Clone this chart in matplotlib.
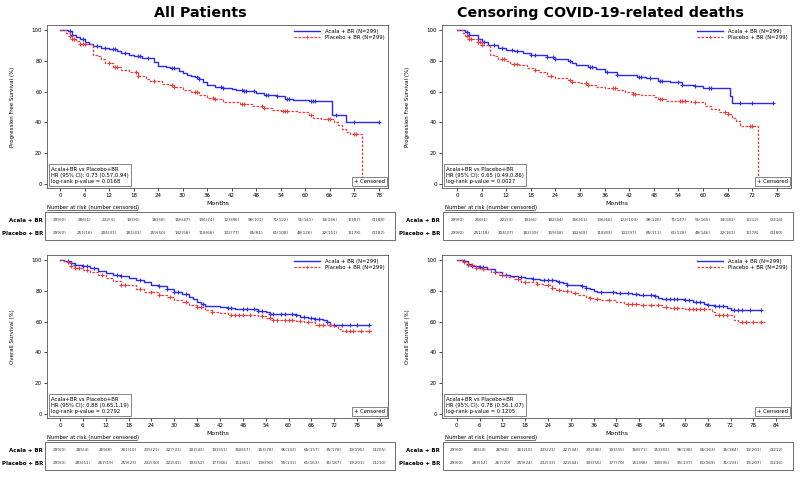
import numpy as np
import matplotlib
matplotlib.use("Agg")
import matplotlib.pyplot as plt
from matplotlib.lines import Line2D
from matplotlib.patches import Rectangle
from matplotlib.transforms import blended_transform_factory

# ---- data ----
titles = ["All Patients", "Censoring COVID-19-related deaths"]
arm_labels = ["Acala + BR (N=299)", "Placebo + BR (N=299)"]
row_labels = ["Acala + BR", "Placebo + BR"]

pfs_ticks = list(range(0, 79, 6))
os_ticks = list(range(0, 85, 6))

# PFS, all patients
pfs_all_acala_t = [0, 2, 3, 4, 5, 6, 7, 8, 10, 12, 14, 15, 17, 18, 20, 21, 23, 24, 26, 27, 29, 30, 31, 32,
                   33, 34, 35, 36, 38, 40, 42, 43, 45, 48, 50, 53, 55, 57, 61, 66.5, 70, 78]
pfs_all_acala_s = [100, 99, 97, 95.5, 94, 92, 91, 89.5, 88.5, 87.5, 86, 85, 84, 83, 82, 81.5, 79, 76.5, 76, 75,
                   73.5, 72, 71, 70, 69.5, 68, 66.5, 64.5, 63, 62, 61.5, 61, 60.5, 59, 57.5, 57, 55, 54.5, 54,
                   45, 40.5, 40.5]
pfs_all_acala_c = [2.5, 3, 5.5, 9, 11, 13, 13.5, 16, 19, 19.5, 21.5, 27.5, 28, 33.5, 34, 39.5, 40, 44.5, 45,
                   45.5, 47.5, 50.5, 51, 53, 55.5, 56, 61.5, 62, 62.5, 67.5, 72, 78]
pfs_all_plac_t = [0, 1.5, 2.5, 3, 4, 5, 8, 9, 10, 11, 13, 15, 17, 19, 21, 22, 25, 27, 28, 30, 32, 34, 36, 38,
                  40, 43, 44, 47, 50, 52, 54, 58, 60, 61, 62, 64, 67, 68, 69, 70, 71, 74]
pfs_all_plac_s = [100, 98, 96, 94, 93, 91, 84, 83, 81, 78.5, 76, 74, 72.5, 70, 68, 67, 65, 64, 63, 61, 59.5,
                  57.5, 56, 55, 53.5, 53, 52, 50.5, 49, 48, 47.5, 47, 46.5, 44.5, 43, 42, 40.5, 38.5, 36, 34,
                  32.5, 0]
pfs_all_plac_c = [2.5, 3, 3.5, 5, 5.5, 6, 12, 13.5, 14, 18.5, 19, 23, 27.5, 28, 33, 33.5, 37.5, 38, 44.5, 45,
                  49.5, 50, 54.5, 55, 55.5, 61.5, 65.5, 66, 72, 72.5]

# PFS, censoring COVID-19 deaths
pfs_cov_acala_t = [0, 2, 3, 5, 6, 7.5, 10, 12, 14, 16, 18, 22, 24, 27, 28, 29, 32, 34, 36, 39, 42, 44, 46, 49,
                   52, 55, 58, 60, 66.5, 67, 77]
pfs_cov_acala_s = [100, 98.5, 97, 94, 92, 90, 88, 87, 86, 85, 84, 82.5, 81, 79.5, 78.5, 77, 76, 74.5, 72.5, 71,
                   70.5, 69.5, 68.5, 67, 66.5, 64.5, 63.5, 62.5, 57, 52.5, 52.5]
pfs_cov_acala_c = [2.5, 3, 5, 6.5, 9, 11, 13.5, 14.5, 18, 19, 22, 23.5, 24, 27.5, 32.5, 33, 36.5, 39, 44.5,
                   45, 47, 49.5, 50, 54, 55, 58, 61.5, 62, 69, 72, 77]
pfs_cov_plac_t = [0, 1.5, 2, 3, 5, 6, 8, 9, 10, 12, 13, 15, 17, 19, 20, 22, 24, 27, 28, 30, 32, 34, 36, 39, 41,
                  43, 45, 48, 49, 51, 57, 60.5, 62, 64, 66, 67, 68, 69, 73.5]
pfs_cov_plac_s = [100, 98, 96, 94, 92, 90.5, 84, 83, 81, 79.5, 78, 77, 75, 74, 72.5, 70, 69, 67.5, 66.5, 65.5,
                  64.5, 63, 62, 61, 59.5, 58.5, 57.5, 56.5, 55, 54, 53, 50.5, 48.5, 47, 45.5, 43, 41, 37.5, 0]
pfs_cov_plac_c = [2.5, 3, 3.5, 5, 5.5, 6, 11, 11.5, 14, 14.5, 19, 23, 27.5, 28, 31.5, 32, 38, 38.5, 43, 43.5,
                  49.5, 50, 54.5, 55, 55.5, 58, 65.5, 66, 71.5, 72]

# OS, all patients
os_all_acala_t = [0, 1, 2, 3, 4, 6, 8, 10, 12, 14, 16, 18, 20, 22, 24, 26, 28, 30, 32, 34, 35, 36, 37, 38, 42,
                  44, 46, 52, 54, 55, 62, 63, 65, 67, 69, 70, 71, 81]
os_all_acala_s = [100, 99.5, 99, 98, 96.5, 96, 94.5, 93, 91.5, 90, 89.5, 88.5, 87, 86, 84, 83, 81, 79, 78, 76,
                  74.5, 73, 71.5, 70, 69.5, 69, 68, 67, 66, 65, 64, 63, 62.5, 61.5, 61, 59.5, 57.5, 57.5]
os_all_acala_c = [2, 3, 4, 6, 7, 9, 15, 16, 21, 26, 28, 30, 31, 33, 37.5, 44, 45, 48, 49, 51, 52, 53, 55, 56,
                  58, 59, 61, 62, 64, 66, 67, 68, 70, 72, 74, 76, 78, 81]
os_all_plac_t = [0, 1, 2, 3, 4, 6, 8, 10, 12, 14, 16, 18, 20, 22, 24, 26, 28, 30, 32, 34, 36, 38, 40, 42, 44,
                 46, 52, 54, 56, 62, 64, 66, 67, 72, 73, 74, 82]
os_all_plac_s = [100, 99.5, 98.5, 96, 95, 93.5, 92, 90.5, 88.5, 86.5, 84, 83.5, 81, 79.5, 79, 77, 76, 74, 72.5,
                 71, 69.5, 67.5, 66.5, 65.5, 64.5, 64, 63.5, 62, 61, 60.5, 60, 59.5, 58, 57, 55, 54, 54]
os_all_plac_c = [2, 3, 4, 5, 7, 11, 16, 17, 21, 24, 26, 29, 33, 36, 37, 40, 45, 46, 47, 48, 50, 53, 55, 56,
                 57, 59, 60, 61, 63, 65, 68, 69, 71, 75, 76, 77, 79, 81]

# OS, censoring COVID-19 deaths
os_cov_acala_t = [0, 2, 3, 4, 6, 8, 10, 12, 14, 16, 18, 20, 22, 26, 27, 28, 29, 31, 33, 34, 35, 36, 37, 40, 42,
                  46, 48, 50, 52, 53, 54, 60, 62, 65, 66, 68, 71, 72, 80]
os_cov_acala_s = [100, 99, 97.5, 96, 95.5, 94, 92, 90.5, 89.5, 89, 88, 87.5, 87, 86.5, 85.5, 85, 84, 83.5, 83,
                  82, 81, 80, 79.5, 79, 78.5, 78, 77.5, 77, 76.5, 75.5, 74.5, 74, 73, 71.5, 70.5, 70, 69, 67.5,
                  67.5]
os_cov_acala_c = [2, 3, 4, 6, 7, 10, 13, 17, 20, 23, 24, 25, 27, 29, 33, 34, 38, 41, 43, 45, 47, 49, 51, 52,
                  55, 56, 57, 58, 60, 61, 63, 64, 66, 68, 69, 70, 73, 74, 75, 77, 80]
os_cov_plac_t = [0, 2, 3, 5, 7, 9, 11, 13, 15, 17, 19, 21, 23, 25, 26, 28, 30, 32, 34, 35, 36, 38, 42, 44, 48,
                 52, 54, 56, 58, 60, 67, 68, 73, 74, 81]
os_cov_plac_s = [100, 98.5, 96.5, 95, 94, 92, 90.5, 89, 87.5, 86, 85.5, 84.5, 83.5, 82, 80.5, 80, 78.5, 77.5,
                 76, 75, 74.5, 74, 73, 71.5, 71, 70.5, 69.5, 69, 68.5, 68, 66, 64.5, 61, 60, 60]
os_cov_plac_c = [2, 3, 4, 5, 7, 12, 16, 18, 21, 24, 25, 27, 29, 31, 35, 37, 40, 45, 46, 47, 49, 51, 53, 55, 57,
                 58, 61, 62, 63, 64, 65, 69, 70, 71, 75, 76, 78, 80]

hr_texts = [
    "HR (95% CI): 0.73 (0.57,0.94)\nlog-rank p-value = 0.0168",
    "HR (95% CI): 0.65 (0.49,0.86)\nlog-rank p-value = 0.0027",
    "HR (95% CI): 0.88 (0.65,1.19)\nlog-rank p-value = 0.2792",
    "HR (95% CI): 0.78 (0.56,1.07)\nlog-rank p-value = 0.1205",
]

risk_pfs_all_acala = ["299(0)", "286(1)", "232(3)", "193(6)", "182(8)", "156(47)", "136(74)", "123(86)",
                      "98(101)", "71(122)", "51(141)", "34(156)", "1(187)", "0(188)"]
risk_pfs_all_plac = ["299(0)", "251(16)", "204(31)", "182(43)", "159(50)", "142(56)", "118(66)", "102(77)",
                     "85(81)", "61(108)", "48(126)", "22(151)", "1(178)", "0(182)"]
risk_pfs_cov_acala = ["299(0)", "256(1)", "222(3)", "193(6)", "182(44)", "156(61)", "136(66)", "122(103)",
                      "98(126)", "71(147)", "51(165)", "34(181)", "1(212)", "0(214)"]
risk_pfs_cov_plac = ["299(0)", "251(18)", "204(27)", "182(39)", "159(58)", "142(69)", "118(83)", "102(97)",
                     "85(111)", "61(128)", "48(146)", "22(161)", "1(178)", "0(180)"]
risk_os_all_acala = ["299(0)", "285(4)", "269(8)", "261(10)", "235(21)", "227(31)", "202(43)", "193(51)",
                     "168(67)", "153(78)", "96(132)", "65(157)", "35(178)", "13(195)", "0(205)"]
risk_os_all_plac = ["299(0)", "283(11)", "267(19)", "259(23)", "232(30)", "222(41)", "193(52)", "177(66)",
                    "151(81)", "138(90)", "95(131)", "61(163)", "31(187)", "13(201)", "0(210)"]
risk_os_cov_acala = ["299(0)", "285(4)", "269(8)", "261(10)", "235(21)", "227(34)", "202(46)", "193(55)",
                     "168(71)", "153(83)", "96(138)", "65(163)", "35(184)", "13(201)", "0(212)"]
risk_os_cov_plac = ["299(0)", "283(12)", "267(20)", "259(24)", "232(33)", "222(44)", "193(56)", "177(70)",
                    "151(86)", "138(95)", "95(137)", "61(169)", "31(193)", "13(207)", "0(216)"]

BLUE = "#2b2bf0"
RED = "#f03a3a"

panels = [
    dict(pos=[0.0586, 0.6132, 0.4252, 0.3354], xlim=(-3.2, 80.3), ticks=pfs_ticks,
         ylabel="Progression Free Survival (%)",
         curves=[(pfs_all_acala_t, pfs_all_acala_s, pfs_all_acala_c), (pfs_all_plac_t, pfs_all_plac_s, pfs_all_plac_c)],
         risk=[risk_pfs_all_acala, risk_pfs_all_plac], hr=hr_texts[0], tab_y=(240, 212, 210, 220, 233),
         box_x=(45, 395), lab_x=43),
    dict(pos=[0.5511, 0.6132, 0.4352, 0.3354], xlim=(-3.7, 81.5), ticks=pfs_ticks,
         ylabel="Progression Free Survival (%)",
         curves=[(pfs_cov_acala_t, pfs_cov_acala_s, pfs_cov_acala_c), (pfs_cov_plac_t, pfs_cov_plac_s, pfs_cov_plac_c)],
         risk=[risk_pfs_cov_acala, risk_pfs_cov_plac], hr=hr_texts[1], tab_y=(240, 212, 210, 220, 233),
         box_x=(443, 793), lab_x=440),
    dict(pos=[0.0586, 0.1399, 0.4252, 0.3354], xlim=(-3.4, 86.1), ticks=os_ticks,
         ylabel="Overall Survival (%)",
         curves=[(os_all_acala_t, os_all_acala_s, os_all_acala_c), (os_all_plac_t, os_all_plac_s, os_all_plac_c)],
         risk=[risk_os_all_acala, risk_os_all_plac], hr=hr_texts[2], tab_y=(470, 442, 440, 450, 463),
         box_x=(45, 395), lab_x=43),
    dict(pos=[0.5511, 0.1399, 0.4352, 0.3354], xlim=(-3.9, 87.9), ticks=os_ticks,
         ylabel="Overall Survival (%)",
         curves=[(os_cov_acala_t, os_cov_acala_s, os_cov_acala_c), (os_cov_plac_t, os_cov_plac_s, os_cov_plac_c)],
         risk=[risk_os_cov_acala, risk_os_cov_plac], hr=hr_texts[3], tab_y=(470, 442, 440, 450, 463),
         box_x=(443, 793), lab_x=440),
]

W, H = 802, 486
fig = plt.figure(figsize=(W / 100, H / 100), dpi=100)
fig.patch.set_facecolor("white")

fig.text(200 / W, 1 - 13 / H, titles[0], ha="center", va="center", fontsize=10.3, fontweight="bold")
fig.text(600 / W, 1 - 13 / H, titles[1], ha="center", va="center", fontsize=10.3, fontweight="bold")


def surv_at(t_list, s_list, t):
    i = np.searchsorted(np.array(t_list), t, side="right") - 1
    return s_list[max(i, 0)]


for p in panels:
    ax = fig.add_axes(p["pos"])
    styles = [dict(color=BLUE, ls="-", lw=1.0), dict(color=RED, ls=(0, (2, 1.2)), lw=0.9)]
    for (t, s, c), st in zip(p["curves"], styles):
        ax.step(t, s, where="post", **st)
        cy = [surv_at(t, s, ci) for ci in c]
        ax.plot(c, cy, ls="none", marker="+", ms=3.5, mew=0.8, color=st["color"])
    ax.set_xlim(*p["xlim"])
    ax.set_ylim(-2.6, 103.2)
    ax.set_xticks(p["ticks"])
    ax.set_yticks([0, 20, 40, 60, 80, 100])
    ax.tick_params(labelsize=4, length=2, width=0.5, pad=1.5)
    for sp in ax.spines.values():
        sp.set_linewidth(0.6)
        sp.set_color("#555555")
    ax.set_xlabel("Months", fontsize=4.5, labelpad=2)
    ax.set_ylabel(p["ylabel"], fontsize=4, labelpad=12)

    handles = [Line2D([], [], color=BLUE, lw=1.0),
               Line2D([], [], color=RED, lw=0.9, ls=(0, (2, 1.2)), marker="+", ms=2.5, mew=0.5)]
    ax.legend(handles, arm_labels, loc="upper right", fontsize=3.8, frameon=False,
              handlelength=5, borderaxespad=0.3, labelspacing=0.2)

    ax.text(0.012, 0.025, "Acala+BR vs Placebo+BR\n" + p["hr"], transform=ax.transAxes,
            fontsize=3.8, ha="left", va="bottom", linespacing=1.3,
            bbox=dict(boxstyle="square,pad=0.4", fc="white", ec="#555555", lw=0.5))
    ax.text(0.992, 0.025, "+ Censored", transform=ax.transAxes, fontsize=3.8, ha="right", va="bottom",
            bbox=dict(boxstyle="square,pad=0.4", fc="white", ec="#555555", lw=0.5))

    # number-at-risk table
    y_bot, y_top, y_head, y_r1, y_r2 = p["tab_y"]
    x0, x1 = p["box_x"]
    fig.patches.append(Rectangle((x0 / W, 1 - y_bot / H), (x1 - x0) / W, (y_bot - y_top) / H,
                                 transform=fig.transFigure, fill=False, ec="#555555", lw=0.6))
    fig.text((x0 + 2) / W, 1 - y_head / H, "Number at risk (number censored)",
             fontsize=3.8, ha="left", va="bottom")
    fig.lines.append(Line2D([(x0 + 2) / W, (x0 + 92) / W], [1 - (y_head + 0.3) / H] * 2,
                            transform=fig.transFigure, color="black", lw=0.4))
    trans = blended_transform_factory(ax.transData, fig.transFigure)
    for lab, vals, yy in zip(row_labels, p["risk"], [y_r1, y_r2]):
        fig.text(p["lab_x"] / W, 1 - yy / H, lab, fontsize=4, fontweight="bold", ha="right", va="center")
        for tk, v in zip(p["ticks"], vals):
            ax.text(tk, 1 - yy / H, v, transform=trans, fontsize=3, ha="center", va="center",
                    color="#333333")

fig.savefig("out.png", dpi=100)
